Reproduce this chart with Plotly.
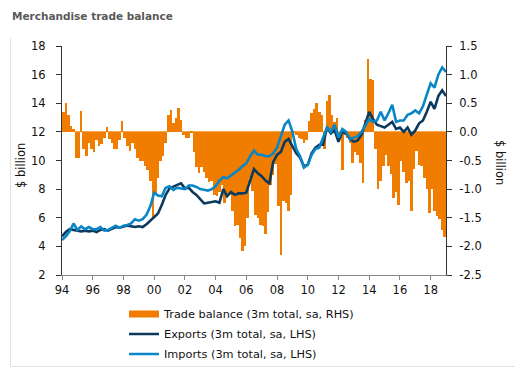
import plotly.graph_objects as go

# ---------------- data ----------------
START_YEAR = 1994

# Trade balance, $bn (RHS), two-month steps starting Jan 1994 (6 values per year)
balance_bimonthly = [
    0.35, 0.50, 0.30, 0.10, 0.05, -0.45,      # 1994
    -0.45, 0.37, -0.30, -0.43, -0.20, -0.30,  # 1995
    -0.35, -0.15, -0.25, -0.22, -0.10, 0.08,  # 1996
    -0.12, -0.20, -0.30, -0.30, -0.15, 0.19,  # 1997
    -0.10, -0.25, -0.33, -0.20, -0.30, -0.45, # 1998
    -0.50, -0.50, -0.60, -0.67, -0.85, -1.50, # 1999
    -1.08, -0.80, -0.50, -0.43, -0.20, 0.30,  # 2000
    0.38, 0.15, 0.25, 0.42, 0.20, -0.05,      # 2001
    -0.10, -0.10, -0.02, -0.35, -0.62, -0.72, # 2002
    -0.62, -0.70, -0.80, -0.88, -0.86, -1.10, # 2003
    -1.12, -1.05, -0.92, -1.25, -1.10, -1.10, # 2004
    -1.38, -1.65, -1.62, -1.85, -2.08, -2.00, # 2005
    -1.50, -0.80, -1.03, -1.45, -1.50, -1.62, # 2006
    -1.65, -1.78, -1.40, -0.92, -0.75, -0.56, # 2007
    -1.30, -2.15, -1.20, -1.25, -1.38, -1.10, # 2008
    -0.02, -0.06, -0.10, -0.12, -0.20, -0.15, # 2009
    0.19, 0.33, 0.40, 0.50, 0.35, 0.30,       # 2010
    -0.30, 0.54, 0.64, 0.30, 0.17, 0.25,      # 2011
    -0.10, -0.67, -0.05, -0.10, -0.20, -0.55, # 2012
    -0.35, -0.40, -0.55, -0.90, 0.20, 1.28,   # 2013
    0.93, 0.90, -0.30, -1.00, -0.85, -0.60,   # 2014
    -0.40, -0.60, -0.74, -1.15, -1.05, -1.27, # 2015
    -0.50, -0.70, -0.90, -0.85, -1.38, -0.65, # 2016
    -0.33, -0.58, -0.60, -0.80, -1.00, -1.42, # 2017
    -1.00, -1.38, -1.47, -1.53, -1.72, -1.83, # 2018
]

# Exports and imports, $bn (LHS), quarterly from Q1 1994 to early 2019
exports_quarterly = [
    4.70, 5.00, 5.20, 5.15,  5.15, 5.05, 5.10, 5.05,  5.10, 5.00, 5.15, 5.20,
    5.10, 5.20, 5.35, 5.30,  5.35, 5.45, 5.40, 5.35,  5.40, 5.35, 5.55, 5.80,
    6.10, 6.30, 6.90, 7.60,  8.05, 8.20, 8.30, 8.40,  8.05, 8.10, 7.80, 7.60,
    7.30, 7.00, 7.05, 7.10,  7.15, 7.05, 8.00, 7.50,  7.80, 7.60, 7.70, 7.70,
    7.75, 8.60, 9.40, 9.10,  8.90, 8.60, 8.40, 9.90,  10.4, 10.6, 11.3, 11.5,
    11.0, 10.5, 10.2, 9.60,  9.70, 10.5, 10.9, 11.1,  11.1, 12.3, 11.9, 12.1,
    11.3, 12.0, 11.9, 11.5,  11.3, 11.4, 11.8, 12.6,  13.4, 12.9, 12.5, 12.4,
    12.3, 12.5, 12.7, 12.2,  12.3, 12.0, 12.3, 11.8,  12.1, 12.6, 12.8, 13.4,
    14.1, 13.6, 14.5, 14.9,  14.5,
]
imports_quarterly = [
    4.45, 4.70, 5.05, 5.60,  5.15, 5.40, 5.20, 5.35,  5.20, 5.20, 5.35, 5.10,
    5.15, 5.30, 5.45, 5.30,  5.45, 5.50, 5.60, 5.90,  5.80, 5.90, 6.20, 6.80,
    7.75, 7.55, 7.50, 8.10,  8.20, 7.95, 8.10, 8.05,  8.00, 8.25, 8.25, 8.15,
    8.00, 7.95, 7.90, 8.00,  8.20, 8.60, 8.85, 8.75,  8.95, 9.10, 9.35, 9.60,
    9.80, 10.3, 10.7, 10.4,  10.4, 10.3, 10.3, 10.5,  10.9, 11.7, 12.5, 12.8,
    12.0, 10.8, 10.3, 9.50,  9.70, 10.4, 10.8, 10.9,  11.6, 12.3, 12.0, 12.5,
    11.6, 12.2, 12.0, 11.5,  11.6, 11.7, 12.0, 12.5,  12.9, 12.7, 12.8, 13.4,
    12.8, 13.3, 13.9, 12.7,  12.8, 12.8, 13.2, 13.3,  13.5, 13.3, 13.8, 14.6,
    15.4, 15.1, 16.0, 16.5,  16.2,
]

tick_years = list(range(1994, 2019, 2))
tick_labels = ["94", "96", "98", "00", "02", "04", "06", "08", "10", "12", "14", "16", "18"]
left_ticks = [2, 4, 6, 8, 10, 12, 14, 16, 18]
right_ticks = [-2.5, -2.0, -1.5, -1.0, -0.5, 0.0, 0.5, 1.0, 1.5]
right_labels = ["-2.5", "-2.0", "-1.5", "-1.0", "-0.5", "0.0", "0.5", "1.0", "1.5"]

name_balance = "Trade balance (3m total, sa, RHS)"
name_exports = "Exports (3m total, sa, LHS)"
name_imports = "Imports (3m total, sa, LHS)"

# ---------------- style ----------------
ORANGE = "#F07D00"
NAVY = "#0B3A5E"
BLUE = "#0A86C6"
FONT = "DejaVu Sans"

W, H = 515, 368
PL, PR, PT, PB = 62, 446, 46, 275   # plot area in pixels


def fx(p):   # pixel x -> paper fraction (margins are zero)
    return p / W


def fy(p):   # pixel y (from top) -> paper fraction
    return 1 - p / H


bar_x = [START_YEAR + (i + 0.5) / 6 for i in range(len(balance_bimonthly))]
line_x = [START_YEAR + i / 4 for i in range(len(exports_quarterly))]

fig = go.Figure()

fig.add_trace(go.Bar(
    x=bar_x, y=balance_bimonthly, width=1 / 6,
    marker=dict(color=ORANGE, line=dict(width=0)),
    yaxis="y", showlegend=False, name=name_balance,
))
fig.add_trace(go.Scatter(
    x=line_x, y=exports_quarterly, mode="lines",
    line=dict(color=NAVY, width=2.6), yaxis="y2",
    name=name_exports, legend="legend2",
))
fig.add_trace(go.Scatter(
    x=line_x, y=imports_quarterly, mode="lines",
    line=dict(color=BLUE, width=2.6), yaxis="y2",
    name=name_imports, legend="legend3",
))
# legend key for the bars (wide orange strip)
fig.add_trace(go.Scatter(
    x=[None], y=[None], mode="lines",
    line=dict(color=ORANGE, width=7), yaxis="y",
    name=name_balance, legend="legend",
))

legend_common = dict(
    xanchor="left", yanchor="middle", bgcolor="rgba(0,0,0,0)",
    borderwidth=0, font=dict(family=FONT, size=11.3, color="#111"),
)

fig.update_layout(
    width=W, height=H, autosize=False,
    margin=dict(l=0, r=0, t=0, b=0, pad=0, autoexpand=False),
    paper_bgcolor="white", plot_bgcolor="white",
    font=dict(family=FONT, size=11, color="#111"),
    bargap=0,
    xaxis=dict(
        domain=[fx(PL), fx(PR)], automargin=False,
        range=[1994, 2019], tickvals=tick_years, ticktext=tick_labels,
        ticks="outside", ticklen=4, tickcolor="#888", showline=True,
        linecolor="#888", linewidth=1, showgrid=False, zeroline=False,
        tickfont=dict(family=FONT, size=11.5, color="#111"),
    ),
    yaxis=dict(
        domain=[fy(PB), fy(PT)], automargin=False,
        side="right", range=[-2.5, 1.5], tickvals=right_ticks, ticktext=right_labels,
        ticks="outside", ticklen=5, tickcolor="#333", showline=True,
        linecolor="#333", linewidth=1, showgrid=False,
        zeroline=True, zerolinecolor="#F5A64F", zerolinewidth=1,
        tickfont=dict(family=FONT, size=11.5, color="#111"),
        ticklabelstandoff=5,
    ),
    yaxis2=dict(
        side="left", overlaying="y", range=[2, 18], tickvals=left_ticks,
        automargin=False,
        ticks="outside", ticklen=5, tickcolor="#333", showline=True,
        linecolor="#333", linewidth=1, showgrid=False, zeroline=False,
        tickfont=dict(family=FONT, size=11.5, color="#111"),
        ticklabelstandoff=8,
    ),
    legend=dict(x=fx(124), y=fy(314), **legend_common),
    legend2=dict(x=fx(124), y=fy(334), **legend_common),
    legend3=dict(x=fx(124), y=fy(354), **legend_common),
    annotations=[
        dict(text="<b>Merchandise trade balance</b>", xref="paper", yref="paper",
             x=fx(10), y=fy(16), xanchor="left", yanchor="middle",
             showarrow=False, font=dict(family=FONT, size=10.5, color="#5A5A5A")),
        dict(text="$ billion", xref="paper", yref="paper",
             x=fx(21), y=fy(166), xanchor="center", yanchor="middle",
             textangle=-90, showarrow=False, font=dict(family=FONT, size=11.5, color="#111")),
        dict(text="$ billion", xref="paper", yref="paper",
             x=fx(500), y=fy(162), xanchor="center", yanchor="middle",
             textangle=90, showarrow=False, font=dict(family=FONT, size=11.5, color="#111")),
    ],
    shapes=[
        dict(type="line", xref="paper", yref="paper",
             x0=fx(10.5), x1=fx(10.5), y0=fy(38), y1=fy(367),
             line=dict(color="#E2E2E2", width=1)),
        dict(type="line", xref="paper", yref="paper",
             x0=fx(10.5), x1=fx(515), y0=fy(366.5), y1=fy(366.5),
             line=dict(color="#E2E2E2", width=1)),
    ],
)

fig.write_html(
    "out.html",
    config={"displayModeBar": False},
    post_script="document.body.style.margin='0px';",
)
